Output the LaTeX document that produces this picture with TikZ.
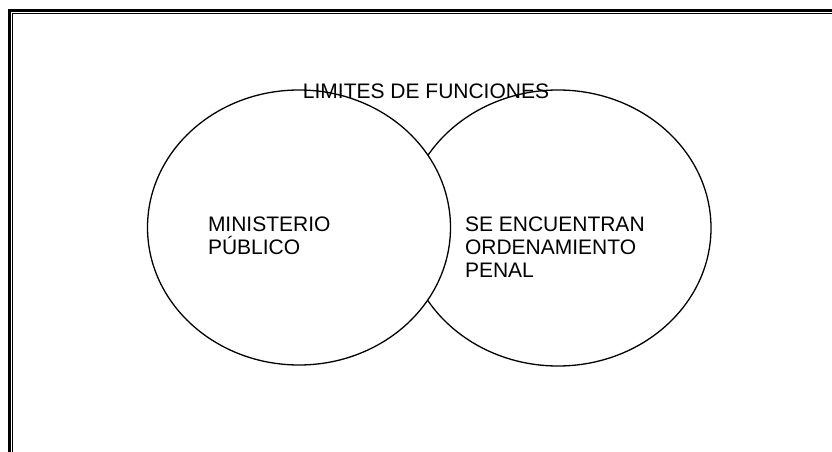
\documentclass[tikz,border=0pt]{standalone}
\usepackage{fontspec}
\setmainfont{Liberation Sans}
\usetikzlibrary{shapes.geometric}
\tikzset{
  circ/.style={ellipse, draw=black, line width=1.3bp, inner sep=0pt, outer sep=0pt},
  lbl/.style={inner sep=0pt, outer sep=0pt, align=left, font=\fontsize{21bp}{23.3bp}\selectfont},
}
\begin{document}
\begin{tikzpicture}[x=1bp,y=-1bp]
\useasboundingbox (0,0) rectangle (832,452);
\clip (0,0) rectangle (832,452);
\fill[white] (0,0) rectangle (832,452);
% frame
\draw[line width=2.8bp] (9.5,10.3) rectangle (900,520);
\draw[line width=1bp] (12.7,13.2) rectangle (897,517);
% ellipses
\node[circ, minimum width=306bp, minimum height=276bp] (right) at (558,228) {};
\node[circ, fill=white, minimum width=303bp, minimum height=275bp] (left) at (299,227.5) {};
% texts
\node[lbl, anchor=base] (title) at (426,98.3) {LIMITES DE FUNCIONES};
\node[lbl, anchor=north west] (mp) at (208,216.7) {MINISTERIO\\PÚBLICO};
\node[lbl, anchor=north west] (se) at (465,216.7) {SE ENCUENTRAN\\ORDENAMIENTO\\PENAL};
\end{tikzpicture}
\end{document}
